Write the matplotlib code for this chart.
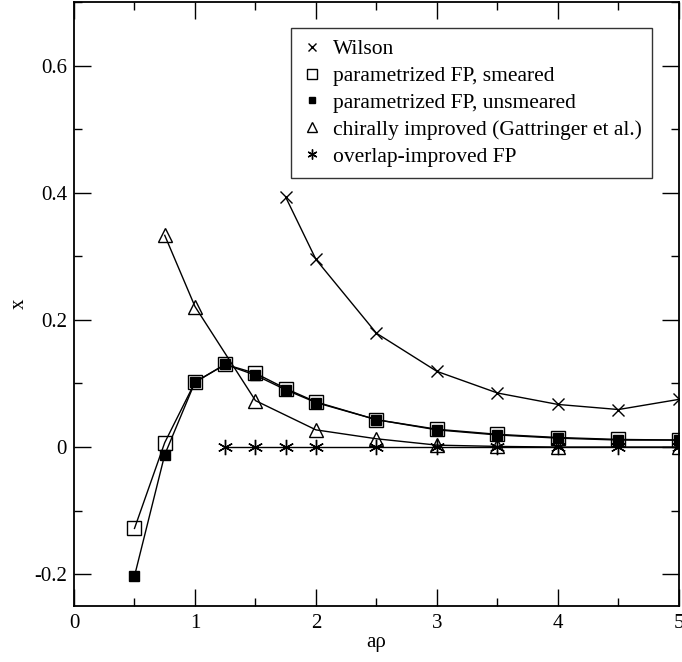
import matplotlib
matplotlib.use("Agg")
import matplotlib.pyplot as plt
from matplotlib.ticker import MultipleLocator, FuncFormatter

# data
wilson_x = [1.75, 2.0, 2.5, 3.0, 3.5, 4.0, 4.5, 5.0]
wilson_y = [0.393, 0.295, 0.179, 0.119, 0.085, 0.067, 0.059, 0.075]

fp_x = [0.5, 0.75, 1.0, 1.25, 1.5, 1.75, 2.0, 2.5, 3.0, 3.5, 4.0, 4.5, 5.0]
fp_smeared_y = [-0.128, 0.007, 0.102, 0.130, 0.116, 0.092, 0.071, 0.043, 0.028, 0.020, 0.015, 0.012, 0.011]
fp_unsmeared_y = [-0.203, -0.012, 0.102, 0.130, 0.113, 0.090, 0.070, 0.043, 0.027, 0.019, 0.014, 0.011, 0.011]

ci_x = [0.75, 1.0, 1.5, 2.0, 2.5, 3.0, 3.5, 4.0, 5.0]
ci_y = [0.333, 0.221, 0.073, 0.027, 0.013, 0.003, 0.001, 0.0, 0.0]

ov_x = [1.25, 1.5, 1.75, 2.0, 2.5, 3.0, 3.5, 4.0, 4.5, 5.0]
ov_y = [0.0, 0.0, 0.0, 0.0, 0.0, 0.0, 0.0, 0.0, 0.0, 0.0]

plt.rcParams["font.family"] = ["Liberation Serif", "DejaVu Serif"]

fig = plt.figure(figsize=(6.82, 6.62), dpi=100)
ax = fig.add_axes([0.1085, 0.0846, 0.887, 0.9124])

lw = 1.0
series = [
    (wilson_x, wilson_y, dict(marker="x", ms=9, mew=1.0, mfc="none", mec="black"), "Wilson"),
    (fp_x, fp_smeared_y, dict(marker="s", ms=10, mew=1.0, mfc="none", mec="black"), "parametrized FP, smeared"),
    (fp_x, fp_unsmeared_y, dict(marker="s", ms=6.5, mew=1.0, mfc="black", mec="black"), "parametrized FP, unsmeared"),
    (ci_x, ci_y, dict(marker="^", ms=10, mew=1.0, mfc="none", mec="black"), "chirally improved (Gattringer et al.)"),
    (ov_x, ov_y, dict(marker=(6, 2, 0), ms=11, mew=1.0, mfc="none", mec="black"), "overlap-improved FP"),
]

for x, y, mk, lab in series:
    ax.plot(x, y, color="black", lw=lw, zorder=2)
for x, y, mk, lab in series:
    ax.plot(x, y, ls="none", label=lab, zorder=3, **mk)

ax.set_xlim(0, 5)
ax.set_ylim(-0.25, 0.7)

ax.xaxis.set_major_locator(MultipleLocator(1))
ax.xaxis.set_minor_locator(MultipleLocator(0.5))
ax.yaxis.set_major_locator(MultipleLocator(0.2))
ax.yaxis.set_minor_locator(MultipleLocator(0.1))
ax.yaxis.set_major_formatter(FuncFormatter(lambda v, p: "%g" % round(v, 3)))

ax.tick_params(which="both", direction="in", top=True, right=True, width=1.0, labelsize=15)
ax.tick_params(which="major", length=12)
ax.tick_params(which="minor", length=6)
ax.tick_params(axis="x", pad=6)
ax.tick_params(axis="y", pad=5)
for s in ax.spines.values():
    s.set_linewidth(1.3)

ax.set_xlabel("aρ", fontsize=15, labelpad=0)
ax.set_ylabel("x", fontsize=15, labelpad=4)

leg = ax.legend(loc="upper left", bbox_to_anchor=(0.358, 0.9565), fontsize=15.5,
                frameon=True, fancybox=False, edgecolor="black", handlelength=1.0,
                handletextpad=0.45, borderpad=0.5, labelspacing=0.32, borderaxespad=0,
                markerscale=0.65)
leg.get_frame().set_linewidth(1.0)

fig.savefig("out.png", dpi=100)
